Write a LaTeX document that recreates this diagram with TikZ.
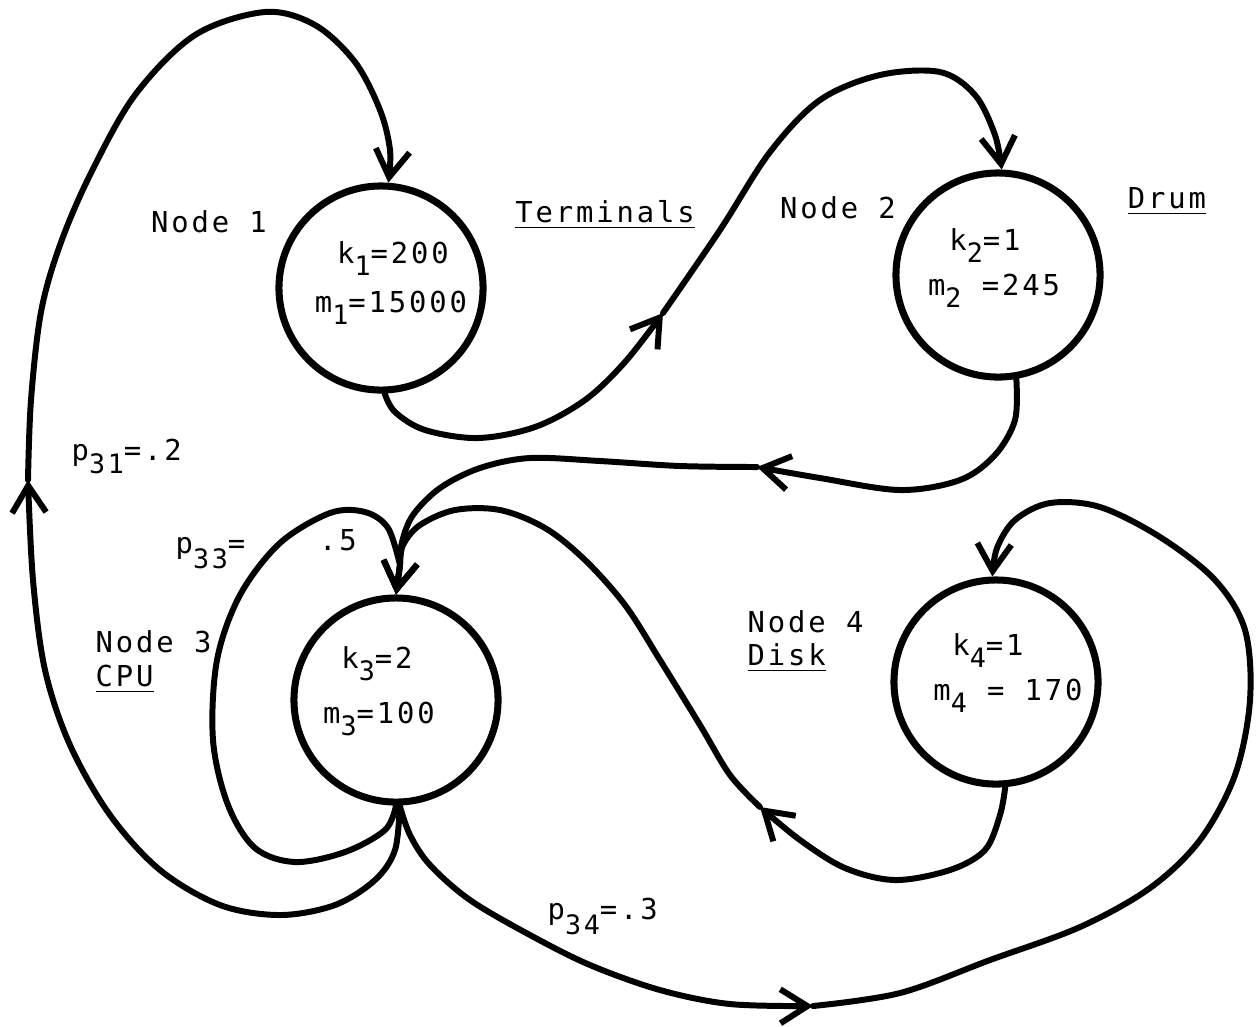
\documentclass[tikz,border=0pt]{standalone}
\usepackage{fontspec}
\newfontfamily\typefont[LetterSpace=10]{DejaVu Sans Mono}
\usetikzlibrary{arrows.meta}

\newcommand{\dn}[2][3.5pt]{\raisebox{-#1}{\fontsize{7.6}{8}\selectfont #2}}

\begin{document}
\begin{tikzpicture}[x=0.01cm, y=-0.01cm,
  station/.style={circle, draw, line width=2pt, minimum size=2.04cm, inner sep=0pt},
  val/.style={anchor=base, inner sep=0pt, font=\typefont\fontsize{8.2}{10}\selectfont},
  lbl/.style={anchor=base west, inner sep=0pt, font=\typefont\fontsize{8.2}{10}\selectfont},
  flow/.style={line width=1.7pt, line cap=round, line join=round},
  arr/.style={flow, -{Straight Barb[length=2.7mm, width=3.4mm]}},
  sm/.style={smooth, tension=0.55},
]
\fill[white] (0,0) rectangle (1258,1026);
\useasboundingbox (0,0) rectangle (1258,1026);

% === Stations ===
\node[station] (n1) at (381,288) {};
\node[station] (n2) at (998,275) {};
\node[station] (n3) at (396,700) {};
\node[station] (n4) at (996,682) {};

% === Values inside the stations ===
\node[val] (k1) at (393,263) {k\dn{1}=200};
\node[val] (m1) at (391,312) {m\dn{1}=15000};
\node[val] (k2) at (985,250) {k\dn{2}=1};
\node[val] (m2) at (994,295) {m\dn{2} =245};
\node[val] (k3) at (377,668) {k\dn{3}=2};
\node[val] (m3) at (379,723) {m\dn{3}=100};
\node[val] (k4) at (988,655) {k\dn{4}=1};
\node[val] (m4) at (1008,700) {m\dn{4} = 170};

% === Labels ===
\node[val] (lab1) at (209,232) {Node 1};
\node[val] (terminals) at (605,222) {\underline{Terminals}};
\node[val] (lab2) at (838,218) {Node 2};
\node[val] (drum) at (1167,208) {\underline{Drum}};
\node[lbl] (lab3) at (95,652) {Node 3};
\node[lbl] (cpu) at (95,686) {\underline{CPU}};
\node[lbl] (lab4) at (747,632) {Node 4};
\node[lbl] (disk) at (747,665) {\underline{Disk}};
\node[lbl] (p31) at (71,460) {p\dn[3.7pt]{31}=.2};
\node[lbl] (p33) at (175,553) {p\dn[4.5pt]{33}=};
\node[val] (p33v) at (338,550) {.5};
\node[lbl] (p34) at (547,919) {p\dn[4.5pt]{34}=.3};

% === Mid-arrow points ===
\coordinate (m31) at (28,480);
\coordinate (m12) at (663,313);
\coordinate (m23) at (757,467);
\coordinate (m43) at (760,807);
\coordinate (m34) at (813,1006);

% === Connectors ===
% CPU -> Terminals (p31)
\draw[arr] plot[sm] coordinates {(n3.-88) (395,850) (375,880) (335,905) (280,915) (220,905) (160,870) (110,815) (70,745) (45,670) (33,580) (m31)};
\draw[arr] plot[sm] coordinates {(m31) (31,400) (41,312) (60,245) (90,175) (135,95) (195,35) (265,12) (315,25) (355,62) (380,110) (390,150) (n1.86)};

% Terminals -> Drum
\draw[arr] plot[sm] coordinates {(n1.-88) (395,412) (425,430) (478,438) (535,427) (585,400) (625,362) (m12)};
\draw[arr] plot[sm] coordinates {(m12) (720,230) (770,152) (820,100) (880,75) (940,72) (975,95) (995,135) (n2.88)};

% Drum -> CPU
\draw[arr] plot[sm] coordinates {(n2.-80) (1015,420) (995,455) (960,480) (900,490) (820,478) (m23)};
\draw[arr] plot[sm] coordinates {(m23) (680,466) (600,461) (530,458) (480,468) (440,488) (413,515) (402,542) (400,565)} -- (n3.90);

% CPU -> CPU (p33)
\draw[arr] plot[sm] coordinates {(n3.-90) (385,830) (345,852) (295,862) (255,848) (228,805) (213,740) (217,660) (240,595) (280,543) (330,513) (365,512) (388,528) (400,565)} -- (n3.90);

% Disk -> CPU
\draw[arr] plot[sm] coordinates {(n4.-85) (1000,815) (985,850) (950,870) (895,880) (845,868) (800,840) (m43)};
\draw[arr] plot[sm] coordinates {(m43) (730,775) (700,725) (660,660) (625,605) (585,560) (545,528) (500,510) (455,510) (420,525) (403,545) (400,565)} -- (n3.90);

% CPU -> Disk (p34)
\draw[arr] plot[sm] coordinates {(n3.-88) (410,835) (430,865) (470,900) (530,935) (590,965) (660,990) (730,1004) (m34)};
\draw[arr] plot[sm] coordinates {(m34) (900,993) (990,960) (1080,927) (1150,888) (1200,840) (1235,775) (1250,700) (1245,630) (1215,580) (1160,537) (1100,507) (1050,503) (1015,520) (997,548) (n4.92)};

\end{tikzpicture}
\end{document}
